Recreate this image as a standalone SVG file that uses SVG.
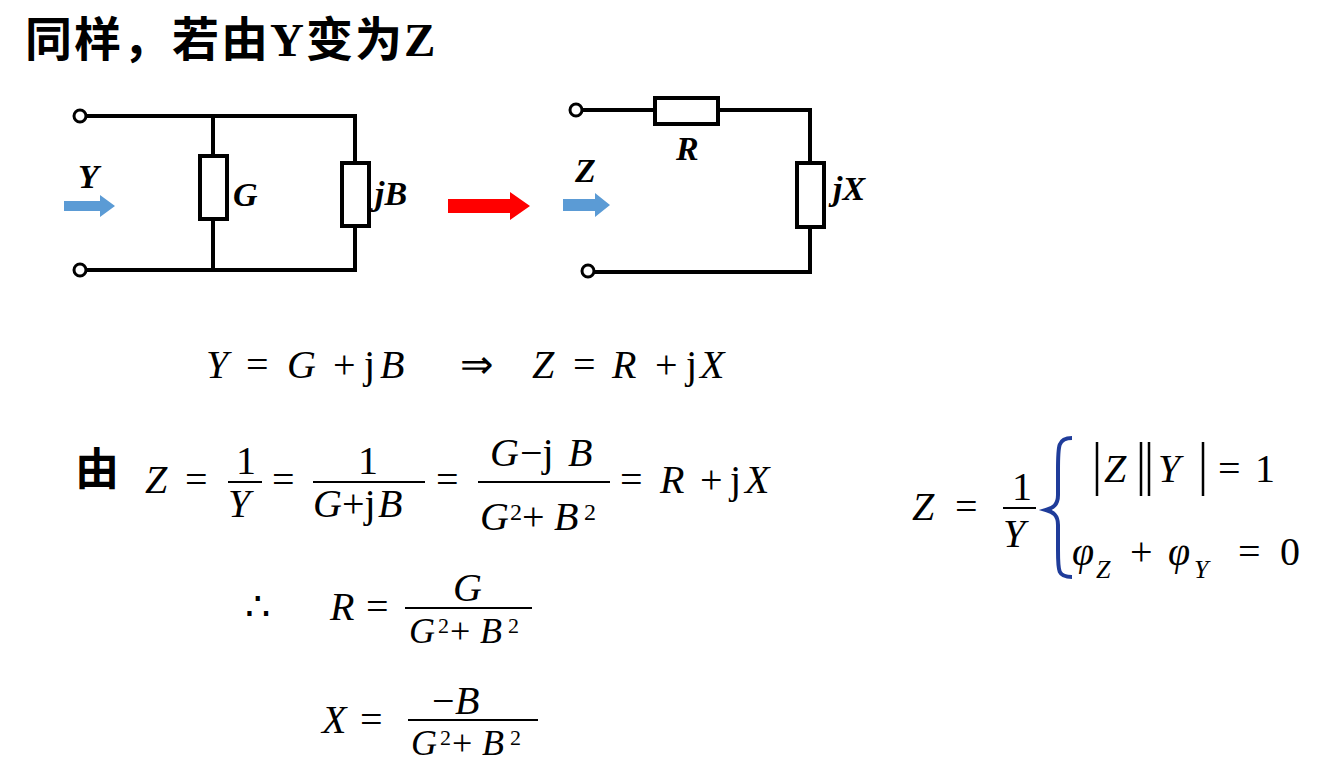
<svg xmlns="http://www.w3.org/2000/svg" width="1332" height="778" viewBox="0 0 1332 778">
<style>
.w{stroke:#000;stroke-width:4;fill:none}
.box{stroke:#000;stroke-width:4;fill:#fff}
.term{stroke:#000;stroke-width:3;fill:#fff}
.lb{font-family:"Liberation Serif",serif;font-weight:bold;font-style:italic;font-size:34px}
text{font-family:"Liberation Serif",serif;font-size:40px}
.m{font-style:italic}
.fl{stroke:#000;stroke-width:2}
</style>
<rect width="1332" height="778" fill="#fff"/>
<text x="25" y="56" style="font-family:'Liberation Sans','Noto Sans CJK SC',sans-serif;font-weight:bold;font-size:47px;letter-spacing:2px">同样，若由<tspan style="font-family:'Liberation Serif',serif">Y</tspan>变为<tspan style="font-family:'Liberation Serif',serif">Z</tspan></text>
<g id="left-circuit">
<path class="w" d="M86 116H355V270H86M213 116V270"/>
<rect class="box" x="200" y="156" width="27" height="63"/>
<rect class="box" x="342" y="163" width="27" height="63"/>
<circle class="term" cx="80" cy="116" r="6"/>
<circle class="term" cx="80" cy="270" r="6"/>
<text class="lb" x="233" y="206">G</text>
<text class="lb" x="375" y="205">jB</text>
<text class="lb" x="78" y="188">Y</text>
<path d="M64 201H100V195L115 206L100 217V211H64Z" fill="#5b9bd5"/>
</g>
<path id="red-arrow" d="M448 199H510V192L530 206L510 220V213H448Z" fill="#f00"/>
<g id="right-circuit">
<path class="w" d="M582 110H810V272H594"/>
<rect class="box" x="655" y="98" width="63" height="26"/>
<rect class="box" x="797" y="163" width="27" height="64"/>
<circle class="term" cx="576" cy="110" r="6"/>
<circle class="term" cx="588" cy="271" r="6"/>
<text class="lb" x="676" y="160">R</text>
<text class="lb" x="833" y="200">jX</text>
<text class="lb" x="575" y="182">Z</text>
<path d="M563 199H595V193L610 205L595 217V211H563Z" fill="#5b9bd5"/>
</g>
<g id="eq1">
<text x="206" y="378" class="m">Y</text><text x="246" y="378">=</text><text x="287" y="378" class="m">G</text><text x="333" y="378">+</text><text x="364" y="378">j</text><text x="380" y="378" class="m">B</text>
<text x="460" y="378">⇒</text>
<text x="532" y="378" class="m">Z</text><text x="573" y="378">=</text><text x="612" y="378" class="m">R</text><text x="655" y="378">+</text><text x="686" y="378">j</text><text x="700" y="378" class="m">X</text>
</g>
<text x="75" y="485" style="font-family:'Noto Sans CJK SC',sans-serif;font-weight:bold;font-size:44px">由</text>
<g id="eq2">
<text x="145" y="493" class="m">Z</text><text x="185" y="493">=</text>
<text x="236" y="474">1</text><line class="fl" x1="228" y1="482" x2="262" y2="482"/><text x="228" y="517" class="m">Y</text>
<text x="272" y="493">=</text>
<text x="358" y="474">1</text><line class="fl" x1="313" y1="482" x2="425" y2="482"/>
<text x="313" y="517" class="m">G</text><text x="342" y="517">+j</text><text x="378" y="517" class="m">B</text>
<text x="436" y="493">=</text>
<text x="490" y="466" class="m">G</text><text x="520" y="466">−j</text><text x="568" y="466" class="m">B</text>
<line class="fl" x1="478" y1="482" x2="610" y2="482"/>
<text x="480" y="530" class="m">G</text><text x="510" y="520" style="font-size:24px">2</text><text x="522" y="530">+</text><text x="554" y="530" class="m">B</text><text x="584" y="520" style="font-size:24px">2</text>
<text x="620" y="493">=</text><text x="660" y="493" class="m">R</text><text x="700" y="493">+</text><text x="730" y="493">j</text><text x="745" y="493" class="m">X</text>
</g>
<g id="eq3">
<text x="245" y="620">∴</text>
<text x="330" y="620" class="m">R</text><text x="366" y="620">=</text>
<text x="453" y="601" class="m">G</text><line class="fl" x1="405" y1="608" x2="532" y2="608"/>
<text x="409" y="643" class="m" style="font-size:36px">G</text><text x="438" y="633" style="font-size:22px">2</text><text x="450" y="643" style="font-size:36px">+</text><text x="480" y="643" class="m" style="font-size:36px">B</text><text x="508" y="633" style="font-size:22px">2</text>
<text x="322" y="733" class="m">X</text><text x="360" y="733">=</text>
<text x="432" y="714">−</text><text x="455" y="714" class="m">B</text><line class="fl" x1="408" y1="720" x2="538" y2="720"/>
<text x="411" y="755" class="m" style="font-size:36px">G</text><text x="440" y="745" style="font-size:22px">2</text><text x="452" y="755" style="font-size:36px">+</text><text x="482" y="755" class="m" style="font-size:36px">B</text><text x="510" y="745" style="font-size:22px">2</text>
</g>
<g id="eq4">
<text x="912" y="520" class="m">Z</text><text x="955" y="520">=</text>
<text x="1012" y="500">1</text><line class="fl" x1="1003" y1="508" x2="1036" y2="508"/><text x="1003" y="547" class="m">Y</text>
<path d="M1072 438C1058 438 1058 445 1058 470V495C1058 505 1053 508 1046 510C1053 512 1058 515 1058 525V550C1058 572 1058 577 1072 577" stroke="#1f3c9a" stroke-width="4" fill="none"/>
<path d="M1097 442V496M1141 442V496M1149 442V496M1203 442V496" stroke="#000" stroke-width="2.5"/>
<text x="1104" y="482" class="m">Z</text><text x="1158" y="482" class="m">Y</text><text x="1218" y="482">=</text><text x="1255" y="482">1</text>
<text x="1072" y="565" class="m">φ</text><text x="1096" y="578" class="m" style="font-size:26px">Z</text>
<text x="1130" y="565">+</text>
<text x="1168" y="565" class="m">φ</text><text x="1194" y="578" class="m" style="font-size:26px">Y</text>
<text x="1238" y="565">=</text><text x="1280" y="565">0</text>
</g>
</svg>
